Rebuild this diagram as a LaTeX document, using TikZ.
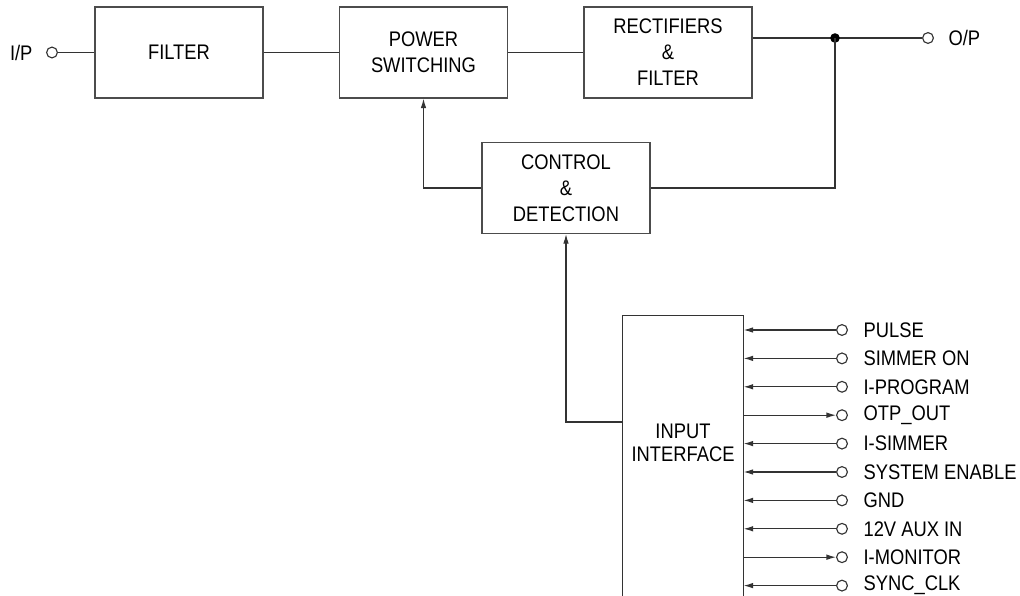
\documentclass[tikz,border=0pt]{standalone}
\usepackage{fontspec}
\setmainfont{Liberation Sans}[FakeStretch=0.87]
\usetikzlibrary{arrows.meta, positioning, calc}

\newcommand{\blockfont}{\fontsize{15}{18.5}\selectfont}

\begin{document}
\begin{tikzpicture}[
        x=0.025cm, y=-0.025cm,
        line width=0.8pt,
        block/.style={draw=black!70, minimum width=4.2cm, minimum height=2.275cm, align=center, font=\blockfont},
        term/.style={draw=black!80, circle, inner sep=0pt, minimum size=0.27cm, fill=white},
        wire/.style={draw=black!80},
        sig/.style={wire, -{Latex[length=2.4mm, width=1.4mm]}},
        pinlabel/.style={anchor=west, inner sep=0pt, font=\blockfont},
    ]
        \useasboundingbox (0,0) rectangle (1020,596);

        % Power path
        \node[block] (filter) at (179,52.5) {FILTER};
        \node[block] (power) at (423.5,52.5) {POWER\\SWITCHING};
        \node[block] (rect) at (668,52.5) {RECTIFIERS\\\&\\FILTER};
        \node[block] (control) at (566,188) {CONTROL\\\&\\DETECTION};

        % Terminals
        \node[term] (ip) at (52,52.5) {};
        \node[pinlabel, anchor=east] (iplbl) at (33,52.5) {I/P};
        \node[term] (op) at (928,38) {};
        \node[pinlabel] (oplbl) at (948,38) {O/P};
        \coordinate (jn) at (835,38);

        \draw[wire] (ip) -- (filter);
        \draw[wire] (filter) -- (power);
        \draw[wire] (power) -- (rect);
        \draw[wire] (rect.east |- jn) -- (jn) -- (op);
        \fill[black] (jn) circle[radius=0.12cm];

        % Feedback loop
        \draw[wire] (jn) |- (control.east);
        \draw[sig] (control.west) -| (power.south);

        % Input interface (open at the bottom)
        \node[draw=none, minimum width=3cm, minimum height=7.1cm] (iface) at (683,458) {};
        \node[align=center, font=\fontsize{15}{16.5}\selectfont] (ifacetext) at (683,443) {INPUT\\INTERFACE};
        \draw[wire] (iface.south west) -- (iface.north west) -- (iface.north east) -- (iface.south east);
        \coordinate (ifout) at (623,422);
        \draw[sig] (ifout) -| (control.south);

        % Interface pins (1 = into the box, 0 = out of the box)
        \foreach \lbl/\dir [count=\i] in {PULSE/1, SIMMER ON/1, I-PROGRAM/1, OTP\_OUT/0, I-SIMMER/1,
                SYSTEM ENABLE/1, GND/1, 12V AUX IN/1, I-MONITOR/0, SYNC\_CLK/1} {
            \node[term] (pin\i) at (842, {330 + (\i-1)*28.4}) {};
            \node[pinlabel] (lbl\i) at (863, {330 + (\i-1)*28.4}) {\lbl};
            \ifnum\dir=1
                \draw[sig] (pin\i) -- (iface.east |- pin\i);
            \else
                \draw[sig] (iface.east |- pin\i) -- (pin\i);
            \fi
        }
    \end{tikzpicture}
\end{document}
